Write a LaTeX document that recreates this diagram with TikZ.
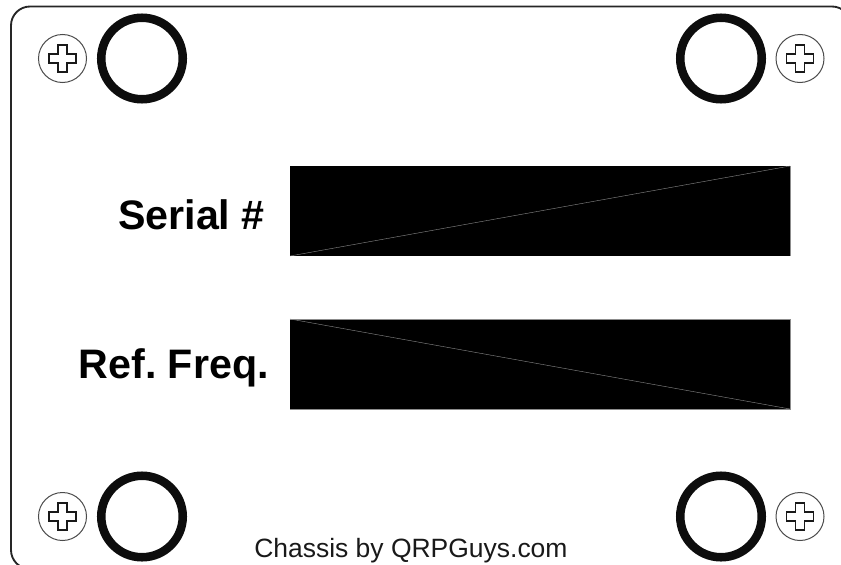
\documentclass[tikz,border=0pt]{standalone}
\usepackage{fontspec}
\setmainfont{Liberation Sans}
\frenchspacing
\tikzset{
	edge/.style={line width=1.4pt, draw=black!85},
	ring/.style={line width=6.4pt, draw=black!95},
	screw/.style={line width=0.75pt, draw=black!70},
	slot/.style={line width=1.15pt, draw=black!90, fill=white},
	plate/.style={fill=black},
	seam/.style={line width=0.3pt, draw=black!45},
	bigtext/.style={font=\fontsize{30.9pt}{34pt}\selectfont\bfseries, inner sep=0pt},
	smalltext/.style={font=\fontsize{19.85pt}{22pt}\selectfont, inner sep=0pt, text=black!90}
}
\begin{document}
\begin{tikzpicture}[x=0.75pt, y=-0.75pt]
\path[use as bounding box, clip] (0, 0) rectangle (841, 564);

\draw[edge, rounded corners=14.25pt] (11, 6.5) rectangle (851, 569);

\foreach \rx/\sx/\y in {142/62.5/58.5, 721/800/58.5, 142/62.5/516.5, 721/800/516.5} {
	\draw[ring] (\rx, \y) circle[radius=40.75];
	\draw[screw] (\sx, \y) circle[radius=24];
	\draw[slot, shift={(\sx, \y)}] (-4.5, -13.5) -- (4.5, -13.5) -- (4.5, -4.5) -- (13.5, -4.5) -- (13.5, 4.5) -- (4.5, 4.5) -- (4.5, 13.5) -- (-4.5, 13.5) -- (-4.5, 4.5) -- (-13.5, 4.5) -- (-13.5, -4.5) -- (-4.5, -4.5) -- cycle;
}

\fill[plate] (290, 166) rectangle (790, 256);
\fill[plate] (290, 319) rectangle (790, 409);
\draw[seam] (290, 256) -- (790, 166);
\draw[seam] (790, 166) -- (790, 256);
\draw[seam] (290, 319) -- (790, 409);
\draw[seam] (290, 319) -- (790, 319) -- (790, 409) -- (290, 409);

\node[bigtext, anchor=base east] (serial) at (265, 229) {Serial \#};
\node[bigtext, anchor=base east] (freq) at (269, 378) {Ref. Freq.};
\node[smalltext, anchor=base west] (credit) at (254, 557) {Chassis by QRPGuys.com};
\end{tikzpicture}
\end{document}
